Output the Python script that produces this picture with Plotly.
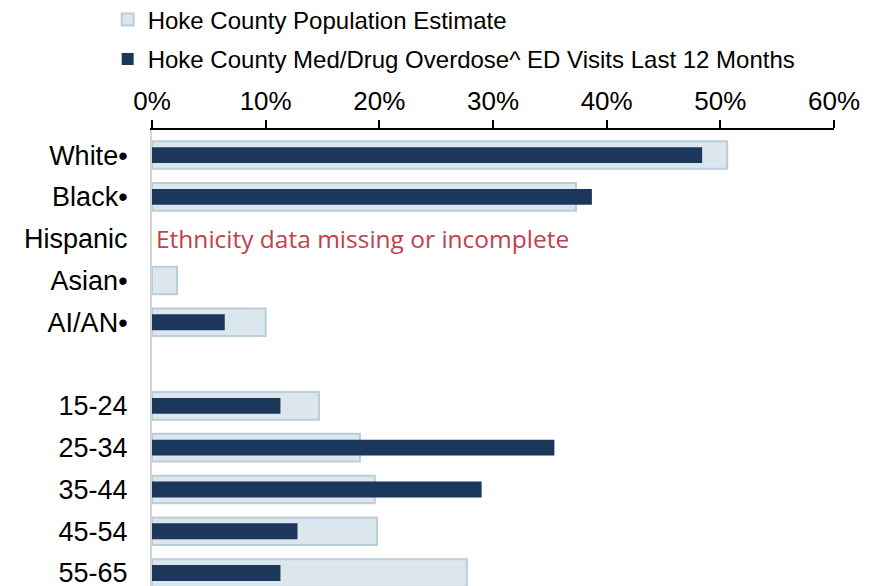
import plotly.graph_objects as go

categories = ["White•", "Black•", "Hispanic", "Asian•", "AI/AN•", " ",
              "15-24", "25-34", "35-44", "45-54", "55-65"]
population = [50.6, 37.3, None, 2.2, 10.0, None, 14.7, 18.3, 19.6, 19.8, 27.7]
ed_visits = [48.4, 38.7, None, 0.0, 6.4, None, 11.3, 35.4, 29.0, 12.8, 11.3]
x_ticks = [0, 10, 20, 30, 40, 50, 60]
x_tick_labels = ["0%", "10%", "20%", "30%", "40%", "50%", "60%"]
note_text = "Ethnicity data missing or incomplete"
note_category = "Hispanic"

ypos = list(range(len(categories)))

fig = go.Figure()
fig.add_trace(go.Bar(
    y=ypos, x=population, orientation="h", width=0.66,
    name="Hoke County Population Estimate",
    marker=dict(color="#dbe6ed", line=dict(color="#b9ceda", width=2)),
    legend="legend",
))
fig.add_trace(go.Bar(
    y=ypos, x=ed_visits, orientation="h", width=0.38,
    name="Hoke County Med/Drug Overdose^ ED Visits Last 12 Months",
    marker=dict(color="#1b375c", line=dict(width=0)),
    legend="legend2",
))

fig.add_annotation(
    x=0.2, y=categories.index(note_category), xref="x", yref="y",
    text=note_text, showarrow=False, xanchor="left", yanchor="middle",
    font=dict(family="Open Sans", size=24.5, color="#c0404f"),
)

legend_font = dict(family="Liberation Sans, Arial", size=24, color="#000000")
fig.update_layout(
    width=885, height=586,
    margin=dict(l=144, r=59, t=122, b=8, autoexpand=False),
    paper_bgcolor="white", plot_bgcolor="white",
    barmode="overlay",
    showlegend=True,
    legend=dict(x=-0.065, y=1.291, xanchor="left", yanchor="top",
                font=legend_font, bgcolor="rgba(0,0,0,0)"),
    legend2=dict(x=-0.065, y=1.204, xanchor="left", yanchor="top",
                 font=legend_font, bgcolor="rgba(0,0,0,0)"),
    xaxis=dict(
        side="top", range=[0, 60], tickmode="array", tickvals=x_ticks,
        ticktext=x_tick_labels,
        showgrid=False, zeroline=False, showline=True, linecolor="black",
        linewidth=1.5, ticks="outside", ticklen=8, tickcolor="black",
        tickwidth=1.5,
        tickfont=dict(family="Liberation Sans, Arial", size=26, color="black"),
    ),
    yaxis=dict(
        range=[10.31, -0.6], tickmode="array", tickvals=ypos,
        ticktext=categories,
        showgrid=False, zeroline=False, showline=True, linecolor="#d4d4d4",
        linewidth=2, ticks="", ticklabelstandoff=17,
        tickfont=dict(family="Liberation Sans, Arial", size=27, color="black"),
    ),
)

fig.write_html("out.html")
